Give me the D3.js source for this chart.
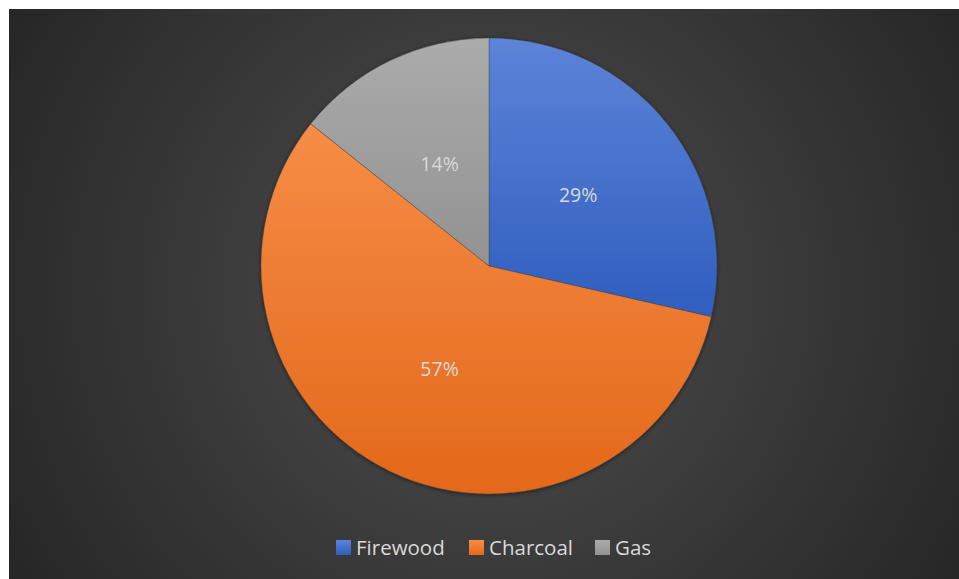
<!DOCTYPE html>
<html>
<head>
<meta charset="utf-8">
<script src="https://cdn.jsdelivr.net/npm/d3@7/dist/d3.min.js"></script>
<style>
  html, body { margin: 0; padding: 0; background: #ffffff; }
  svg { display: block; }
</style>
</head>
<body>
<svg id="chart" width="959" height="579"></svg>
<script>
// Household cooking fuel shares
const categories = ["Firewood", "Charcoal", "Gas"];
const values = [2, 4, 1];
const colorsTop = ["#5c84d7", "#f68d46", "#ababab"];
const colorsBottom = ["#2f5ebf", "#e3681a", "#929292"];

const W = 959, H = 579;
const svg = d3.select("#chart");
const defs = svg.append("defs");

// Dark radial backdrop
const bg = defs.append("radialGradient").attr("id", "bgGrad")
  .attr("gradientUnits", "userSpaceOnUse")
  .attr("cx", 489).attr("cy", 290).attr("r", 560);
bg.append("stop").attr("offset", "0%").attr("stop-color", "#4f4f4f");
bg.append("stop").attr("offset", "100%").attr("stop-color", "#262626");

svg.append("rect").attr("x", 9).attr("y", 9).attr("width", W - 9).attr("height", H - 9)
  .attr("fill", "url(#bgGrad)");

const cx = 489, cy = 266, r = 228;

// Vertical gradient per slice, spanning each slice's own box
categories.forEach((c, i) => {
  const g = defs.append("linearGradient").attr("id", "sg" + i)
    .attr("x1", 0).attr("y1", 0).attr("x2", 0).attr("y2", 1);
  g.append("stop").attr("offset", "0%").attr("stop-color", colorsTop[i]);
  g.append("stop").attr("offset", "100%").attr("stop-color", colorsBottom[i]);
});

const shadow = defs.append("filter").attr("id", "shadow")
  .attr("x", "-10%").attr("y", "-10%").attr("width", "120%").attr("height", "120%");
shadow.append("feGaussianBlur").attr("in", "SourceAlpha").attr("stdDeviation", 2);
shadow.append("feOffset").attr("dy", 1).attr("result", "b");
shadow.append("feComponentTransfer").append("feFuncA").attr("type", "linear").attr("slope", 0.5);
const merge = shadow.append("feMerge");
merge.append("feMergeNode");
merge.append("feMergeNode").attr("in", "SourceGraphic");

const pie = d3.pie().sort(null).value(d => d)(values);
const arc = d3.arc().innerRadius(0).outerRadius(r);
const total = d3.sum(values);

const g = svg.append("g").attr("transform", `translate(${cx},${cy})`);
g.append("g").attr("filter", "url(#shadow)")
  .selectAll("path").data(pie).join("path")
  .attr("d", arc)
  .attr("fill", (d, i) => `url(#sg${i})`)
  .attr("stroke", "rgba(60,60,60,0.5)")
  .attr("stroke-width", 0.7);

// Percent labels
const labelArc = d3.arc().innerRadius(r * 0.5).outerRadius(r * 0.5);
g.selectAll("text.pct").data(pie).join("text")
  .attr("class", "pct")
  .attr("x", d => labelArc.centroid(d)[0])
  .attr("y", d => labelArc.centroid(d)[1])
  .attr("text-anchor", "middle")
  .attr("dominant-baseline", "central")
  .attr("fill", "#d9d9d9")
  .attr("font-family", "'Open Sans', 'Liberation Sans', sans-serif")
  .attr("font-size", 19.5)
  .text(d => Math.round(d.value / total * 100) + "%");

// Legend
const legendX = [336, 469, 595];
const legend = svg.append("g");
categories.forEach((c, i) => {
  const lg = defs.append("linearGradient").attr("id", "lg" + i)
    .attr("x1", 0).attr("y1", 0).attr("x2", 0).attr("y2", 1);
  lg.append("stop").attr("offset", "0%").attr("stop-color", colorsTop[i]);
  lg.append("stop").attr("offset", "100%").attr("stop-color", colorsBottom[i]);
  legend.append("rect").attr("x", legendX[i]).attr("y", 540).attr("width", 15).attr("height", 15)
    .attr("fill", `url(#lg${i})`);
  legend.append("text").attr("x", legendX[i] + 20).attr("y", 547)
    .attr("dominant-baseline", "central")
    .attr("fill", "#d9d9d9")
    .attr("font-family", "'Open Sans', 'Liberation Sans', sans-serif")
    .attr("font-size", 20.5)
    .text(c);
});
</script>
</body>
</html>
